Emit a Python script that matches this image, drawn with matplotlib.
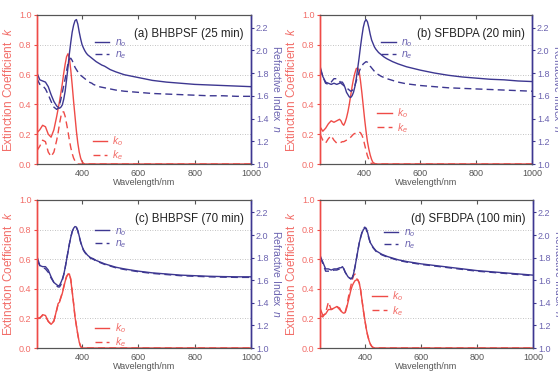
import matplotlib
matplotlib.use('Agg')
import matplotlib.pyplot as plt
from matplotlib.lines import Line2D

plt.rcParams['font.family'] = ['Liberation Sans', 'DejaVu Sans']
plt.rcParams['mathtext.fontset'] = 'custom'
plt.rcParams['mathtext.rm'] = 'Liberation Sans'
plt.rcParams['mathtext.it'] = 'Liberation Sans:italic'

# shared wavelength grid (nm)
wl = [240, 250, 260, 270, 280, 290, 300,
      310, 315, 320, 325, 330, 335, 340, 345, 350, 355, 360, 365, 370, 375,
      380, 385, 390, 395, 400, 405, 410, 415, 420, 425, 430, 435, 440,
      450, 460, 470, 480, 500, 520, 550, 600, 650, 700, 750, 800, 850, 900, 950, 1000]

tail0 = [0] * 16

# (a) BHBPSF 25 min
ko_a = [.21, .23, .26, .25, .20, .18, .23,
        .32, .37, .42, .48, .54, .61, .67, .72, .74, .71, .63, .53, .42, .32,
        .22, .14, .08, .04, .015, .005, 0, 0, 0, 0, 0, 0, 0] + tail0
ke_a = [.09, .12, .16, .15, .08, .05, .08,
        .16, .21, .27, .32, .35, .35, .32, .27, .22, .16, .11, .07, .04, .02,
        .01, 0, 0, 0, 0, 0, 0, 0, 0, 0, 0, 0, 0] + tail0
no_a = [1.80, 1.74, 1.73, 1.72, 1.68, 1.61, 1.55,
        1.51, 1.50, 1.49, 1.50, 1.52, 1.57, 1.64, 1.74, 1.85, 1.97, 2.07, 2.16, 2.22, 2.26,
        2.27, 2.23, 2.16, 2.10, 2.05, 2.02, 1.995, 1.975, 1.96, 1.95, 1.94, 1.93, 1.92,
        1.90, 1.885, 1.87, 1.86, 1.83, 1.81, 1.785, 1.76, 1.735, 1.72, 1.71, 1.70, 1.695, 1.69, 1.685, 1.68]
ne_a = [1.75, 1.70, 1.69, 1.66, 1.61, 1.55, 1.50,
        1.48, 1.49, 1.52, 1.57, 1.63, 1.69, 1.75, 1.82, 1.88, 1.92, 1.93, 1.91, 1.88, 1.85,
        1.83, 1.81, 1.79, 1.78, 1.77, 1.76, 1.75, 1.74, 1.73, 1.72, 1.715, 1.71, 1.70,
        1.69, 1.68, 1.675, 1.67, 1.66, 1.65, 1.64, 1.63, 1.62, 1.615, 1.61, 1.605, 1.60, 1.60, 1.595, 1.595]

# (b) SFBDPA 20 min
ko_b = [.25, .22, .24, .27, .29, .28, .29,
        .30, .29, .27, .26, .28, .31, .35, .40, .46, .52, .57, .61, .64, .645,
        .625, .56, .48, .39, .30, .22, .15, .10, .06, .03, .01, .005, 0] + tail0
ke_b = [.20, .16, .14, .17, .19, .16, .14,
        .14, .145, .15, .15, .155, .16, .165, .17, .18, .19, .20, .205, .21, .215,
        .215, .21, .195, .17, .13, .09, .055, .03, .01, .003, 0, 0, 0] + tail0
no_b = [1.86, 1.77, 1.72, 1.71, 1.70, 1.71, 1.70,
        1.71, 1.72, 1.72, 1.70, 1.67, 1.63, 1.61, 1.59, 1.585, 1.60, 1.63, 1.68, 1.75, 1.84,
        1.93, 2.03, 2.12, 2.20, 2.25, 2.27, 2.25, 2.20, 2.14, 2.09, 2.06, 2.03, 2.01,
        1.98, 1.96, 1.94, 1.925, 1.90, 1.88, 1.855, 1.825, 1.80, 1.78, 1.765, 1.755, 1.745, 1.74, 1.73, 1.725]
ne_b = [1.84, 1.77, 1.71, 1.70, 1.72, 1.75, 1.75,
        1.73, 1.71, 1.70, 1.69, 1.68, 1.67, 1.66, 1.65, 1.64, 1.645, 1.66, 1.69, 1.73, 1.77,
        1.81, 1.84, 1.86, 1.88, 1.89, 1.90, 1.895, 1.88, 1.86, 1.845, 1.83, 1.815, 1.80,
        1.785, 1.77, 1.76, 1.75, 1.735, 1.72, 1.705, 1.69, 1.68, 1.67, 1.665, 1.66, 1.655, 1.65, 1.645, 1.64]

# (c) BHBPSF 70 min
ko_c = [.20, .20, .225, .22, .18, .16, .18,
        .26, .30, .31, .34, .37, .41, .45, .48, .50, .50, .46, .38, .30, .21,
        .15, .09, .04, .01, 0, 0, 0, 0, 0, 0, 0, 0, 0] + tail0
ke_c = [.20, .205, .22, .215, .18, .16, .185,
        .255, .295, .315, .345, .375, .415, .455, .485, .495, .505, .465, .385, .30, .21,
        .15, .09, .04, .01, 0, 0, 0, 0, 0, 0, 0, 0, 0] + tail0
no_c = [1.81, 1.73, 1.72, 1.72, 1.69, 1.63, 1.58,
        1.56, 1.55, 1.555, 1.58, 1.61, 1.65, 1.71, 1.78, 1.85, 1.92, 1.98, 2.03, 2.06, 2.075,
        2.07, 2.04, 1.99, 1.94, 1.90, 1.87, 1.85, 1.835, 1.82, 1.81, 1.80, 1.795, 1.79,
        1.775, 1.765, 1.755, 1.745, 1.73, 1.715, 1.70, 1.68, 1.665, 1.655, 1.645, 1.64, 1.635, 1.632, 1.63, 1.63]
ne_c = [1.78, 1.73, 1.715, 1.70, 1.67, 1.62, 1.58,
        1.55, 1.54, 1.54, 1.56, 1.60, 1.65, 1.71, 1.78, 1.85, 1.92, 1.98, 2.03, 2.06, 2.07,
        2.065, 2.035, 1.985, 1.935, 1.895, 1.865, 1.845, 1.83, 1.815, 1.805, 1.795, 1.79, 1.785,
        1.77, 1.76, 1.75, 1.74, 1.725, 1.71, 1.695, 1.675, 1.66, 1.65, 1.64, 1.635, 1.63, 1.627, 1.625, 1.625]

# (d) SFBDPA 100 min
ko_d = [.27, .22, .23, .26, .26, .27, .28,
        .26, .25, .24, .235, .24, .27, .31, .35, .39, .42, .44, .455, .46, .46,
        .44, .39, .32, .25, .19, .13, .085, .05, .025, .01, .003, 0, 0] + tail0
ke_d = [.22, .21, .24, .31, .26, .27, .28,
        .27, .25, .24, .24, .245, .28, .33, .38, .42, .46, .49, .50, .47, .46,
        .44, .39, .32, .25, .19, .13, .085, .05, .025, .01, .003, 0, 0] + tail0
no_d = [1.82, 1.76, 1.70, 1.70, 1.69, 1.70, 1.70,
        1.71, 1.71, 1.72, 1.70, 1.67, 1.65, 1.63, 1.62, 1.615, 1.62, 1.66, 1.72, 1.79, 1.86,
        1.93, 1.98, 2.02, 2.05, 2.06, 2.06, 2.02, 1.97, 1.93, 1.91, 1.89, 1.875, 1.86,
        1.845, 1.83, 1.82, 1.81, 1.795, 1.78, 1.765, 1.745, 1.73, 1.715, 1.70, 1.685, 1.675, 1.665, 1.655, 1.645]
ne_d = [1.80, 1.75, 1.68, 1.68, 1.68, 1.69, 1.69,
        1.70, 1.71, 1.71, 1.70, 1.67, 1.65, 1.63, 1.62, 1.61, 1.62, 1.66, 1.72, 1.79, 1.86,
        1.93, 1.98, 2.03, 2.06, 2.07, 2.05, 2.01, 1.965, 1.925, 1.905, 1.885, 1.87, 1.855,
        1.84, 1.825, 1.815, 1.805, 1.79, 1.775, 1.76, 1.74, 1.725, 1.71, 1.695, 1.68, 1.67, 1.66, 1.65, 1.64]

titles = ['(a) BHBPSF (25 min)', '(b) SFBDPA (20 min)',
          '(c) BHBPSF (70 min)', '(d) SFBDPA (100 min)']

RED = '#ef4b47'
BLUE = '#3d3791'
RED_TXT = '#f26d68'
BLUE_TXT = '#6b63b0'
GREY = '#555555'
DASH = (0, (5, 3))

positions = [[0.0663, 0.5591, 0.3835, 0.4006],
             [0.5735, 0.5591, 0.3799, 0.4006],
             [0.0663, 0.0645, 0.3835, 0.3979],
             [0.5735, 0.0645, 0.3817, 0.3979]]
# legend anchors (axes fraction): n legend, k legend
n_leg = [(0.27, 0.85), (0.29, 0.85), (0.27, 0.825), (0.30, 0.815)]
k_leg = [(0.26, 0.20), (0.27, 0.385), (0.27, 0.18), (0.245, 0.395)]

panels = [(ko_a, ke_a, no_a, ne_a), (ko_b, ke_b, no_b, ne_b),
          (ko_c, ke_c, no_c, ne_c), (ko_d, ke_d, no_d, ne_d)]


def draw_panel(fig, i):
    ko, ke, no, ne = panels[i]
    ax = fig.add_axes(positions[i])
    ax2 = ax.twinx()

    ax.plot(wl, ko, color=RED, lw=1.0)
    ax.plot(wl, ke, color=RED, lw=1.0, linestyle=DASH)
    ax2.plot(wl, no, color=BLUE, lw=1.0)
    ax2.plot(wl, ne, color=BLUE, lw=1.0, linestyle=DASH)

    ax.set_xlim(240, 1000)
    ax.set_ylim(0, 1.0)
    ax2.set_ylim(1.0, 2.31)
    ax.set_xticks([400, 600, 800, 1000])
    ax.set_yticks([0.0, 0.2, 0.4, 0.6, 0.8, 1.0])
    ax2.set_yticks([1.0, 1.2, 1.4, 1.6, 1.8, 2.0, 2.2])
    ax.yaxis.grid(True, linestyle=(0, (1, 2)), color='#b0b0b0', lw=0.6)

    ax.tick_params(axis='x', direction='in', top=True, length=3, width=0.8,
                   colors=GREY, labelsize=6.5, pad=3.5)
    ax.tick_params(axis='y', direction='out', length=2.5, width=0.8,
                   color=RED, labelcolor=RED_TXT, labelsize=6.5, pad=1.5)
    ax2.tick_params(axis='y', direction='out', length=2.5, width=0.8,
                    color=BLUE, labelcolor=BLUE_TXT, labelsize=6.5, pad=1.0)

    for a in (ax, ax2):
        a.spines['top'].set_color(GREY)
        a.spines['bottom'].set_color(GREY)
        a.spines['left'].set_color(RED)
        a.spines['right'].set_color(BLUE)
        a.spines['left'].set_linewidth(1.0)
        a.spines['right'].set_linewidth(1.0)

    ax.set_xlabel('Wavelength/nm', fontsize=6.5, color=GREY, labelpad=0)
    ax.set_ylabel('Extinction Coefficient  $k$', fontsize=8.5, color=RED_TXT, labelpad=3)
    ax2.set_ylabel('Refractive Index  $n$', fontsize=7.5, color=BLUE_TXT,
                   rotation=270, va='bottom', labelpad=2)

    ax2.text(0.965, 0.87, titles[i], transform=ax.transAxes, ha='right',
             va='center', fontsize=8.3, color='#222222')

    nh = [Line2D([], [], color=BLUE, lw=1.0),
          Line2D([], [], color=BLUE, lw=1.0, linestyle=DASH)]
    nleg = ax2.legend(nh, ['$n_o$', '$n_e$'], loc='upper left', bbox_to_anchor=n_leg[i],
                      frameon=False, fontsize=7.5, handlelength=1.4, labelspacing=0.05,
                      borderpad=0, borderaxespad=0, handletextpad=0.5,
                      labelcolor=BLUE_TXT)
    ax2.add_artist(nleg)
    kh = [Line2D([], [], color=RED, lw=1.0),
          Line2D([], [], color=RED, lw=1.0, linestyle=DASH)]
    ax2.legend(kh, ['$k_o$', '$k_e$'], loc='upper left', bbox_to_anchor=k_leg[i],
               frameon=False, fontsize=7.5, handlelength=1.4, labelspacing=0.05,
               borderpad=0, borderaxespad=0, handletextpad=0.5, labelcolor=RED_TXT)


fig = plt.figure(figsize=(5.58, 3.72), dpi=100)
for i in range(4):
    draw_panel(fig, i)

fig.savefig('out.png', dpi=100)
